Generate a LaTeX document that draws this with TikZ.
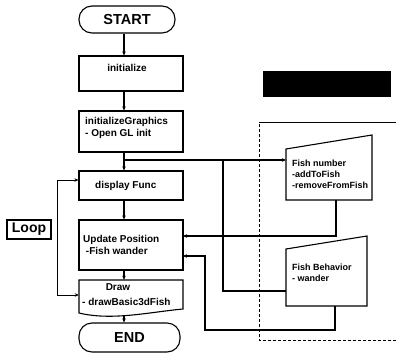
\documentclass[tikz,border=0pt]{standalone}
\usepackage{fontspec}
\setmainfont{Liberation Sans}
\usetikzlibrary{arrows.meta}
\begin{document}
\begin{tikzpicture}[x=1pt,y=-1pt,
  box/.style={draw, line width=1.1pt, minimum width=104pt, inner sep=0pt},
  term/.style={draw, line width=1.1pt, rounded corners=13pt, inner sep=0pt, font=\fontsize{14.5}{16}\selectfont\bfseries},
  txt/.style={inner sep=0pt, align=left, anchor=west, font=\fontsize{10}{12}\selectfont\bfseries},
  ftxt/.style={inner sep=0pt, align=left, anchor=west, font=\fontsize{9}{11}\selectfont\bfseries},
  conn/.style={line width=1.1pt},
  arr/.style={conn, -{Stealth[length=4pt,width=3.5pt]}},
]
\useasboundingbox (0,0) rectangle (396,359);

% black bar and frame
\fill (263,71) rectangle (391,97);
\draw[line width=0.7pt] (259,122) -- (396,122);
\draw[line width=0.7pt, densely dashed] (396,340) -- (259,340) -- (259,122);

% main column
\node[term, minimum width=96pt, minimum height=27pt] (start) at (127,19.5) {START};
\node[box, minimum height=35pt] (init) at (131,73.5) {};
\node[txt, anchor=center] (initT) at (127,68) {initialize};
\node[box, minimum height=41pt] (gfx) at (131,131.5) {};
\node[txt] (gfxT) at (85,128) {initializeGraphics\\- Open GL init};
\node[box, minimum height=29pt] (disp) at (131,185.5) {};
\node[txt] (dispT) at (95,185.5) {display Func};
\node[box, minimum height=50pt] (upd) at (131,245) {};
\node[txt] (updT) at (83,245) {Update Position\\\ -Fish wander};
\node[inner sep=0pt, minimum width=104pt, minimum height=32pt] (drw) at (131,296) {};
\draw[conn] (79,313) -- (79,280) -- (183,280) -- (183,309)
  .. controls (150,312) and (112,321) .. cycle;
\node[txt, anchor=center] (drwT1) at (118,287) {Draw};
\node[txt] (drwT2) at (82,302) {- drawBasic3dFish};
\node[term, minimum width=101pt, minimum height=29pt] (endn) at (129.5,337.5) {END};

\node[draw, line width=1.2pt, inner sep=0pt, minimum width=44pt, minimum height=19pt,
  font=\fontsize{14}{16}\selectfont\bfseries] (loop) at (29,229.5) {Loop};

% right shapes
\coordinate (fnA) at (286,149);
\coordinate (fnB) at (372,135);
\coordinate (fnC) at (372,200);
\coordinate (fnD) at (286,200);
\draw[conn] (fnA) -- (fnB) -- (fnC) -- (fnD) -- cycle;
\node[ftxt] (fnT) at (292,174) {Fish number\\-addToFish\\-removeFromFish};

\coordinate (fbA) at (286,249);
\coordinate (fbB) at (367,236);
\coordinate (fbC) at (367,306);
\coordinate (fbD) at (286,306);
\draw[conn] (fbA) -- (fbB) -- (fbC) -- (fbD) -- cycle;
\node[ftxt] (fbT) at (292,272.5) {Fish Behavior\\- wander};

% spine connectors
\coordinate (sp) at (124,0);
\draw[arr] (start.south -| sp) -- (init.north -| sp);
\draw[arr] (init.south -| sp) -- (gfx.north -| sp);
\draw[arr] (gfx.south -| sp) -- (disp.north -| sp);
\draw[arr] (disp.south -| sp) -- (upd.north -| sp);
\draw[arr] (upd.south -| sp) -- (drw.north -| sp);
\coordinate (drwB) at (124,316);
\draw[arr] (drwB) -- (endn.north -| sp);

% branch to fish number
\coordinate (j1) at (124,160);
\coordinate (fnIn) at (286,160);
\draw[arr, line width=1.4pt] (j1) -- (fnIn);
\coordinate (j2) at (223,160);
\coordinate (fbIn) at (286,291);
\draw[conn] (j2) |- (fbIn);

% returns to update position
\coordinate (fnOut) at (336,200);
\coordinate (u1) at (183,236);
\draw[arr] (fnOut) |- (u1);
\coordinate (fbOut) at (335,306);
\coordinate (r1) at (205,330);
\coordinate (u2) at (183,256);
\draw[arr] (fbOut) -- (fbOut |- r1) -- (r1) |- (u2);

% loop
\coordinate (L1) at (57,180);
\coordinate (L2) at (57,295);
\draw[arr, line width=0.8pt] (L2) -- (L1) -- (disp.west |- L1);
\draw[arr, line width=0.8pt] (L2) -- (drw.west |- L2);
\end{tikzpicture}
\end{document}
